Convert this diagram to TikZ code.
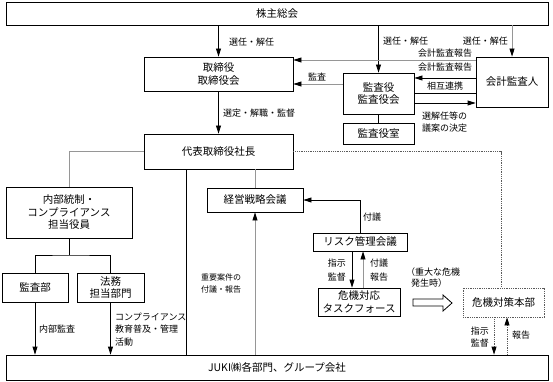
\documentclass[tikz,border=0pt]{standalone}
\usepackage{fontspec}
\setmainfont{Noto Sans CJK JP}
\usetikzlibrary{arrows.meta,calc}
\definecolor{lg}{RGB}{150,150,150}
\definecolor{dg}{RGB}{90,90,90}
\begin{document}
\begin{tikzpicture}[x=1pt,y=-1pt,
  box/.style={draw, line width=0.8pt, inner sep=0pt, align=center, font=\fontsize{10.5}{12.5}\selectfont},
  lbl/.style={inner sep=0pt, align=left, font=\fontsize{9}{12.5}\selectfont},
  tip/.style={-{Triangle[length=8pt,width=5pt,black]}},
  line/.style={line width=0.8pt},
  gline/.style={line width=0.8pt, draw=lg},
  arr/.style={line, tip},
  garr/.style={gline, tip},
  dline/.style={line width=0.8pt, draw=dg, densely dotted},
  darr/.style={dline, tip}]
\useasboundingbox (0,0) rectangle (553,382);

% boxes
\node[box, minimum width=542pt, minimum height=23pt] (kabu) at (277,13.5) {株主総会};
\node[box, minimum width=149pt, minimum height=34pt] (tori) at (218.5,74) {取締役\\取締役会};
\node[box, minimum width=71pt, minimum height=41pt] (kansa) at (378.5,93.5) {監査役\\監査役会};
\node[box, minimum width=71pt, minimum height=21pt] (kshitsu) at (378.5,133.5) {監査役室};
\node[box, minimum width=72pt, minimum height=50pt] (kaikei) at (512,82) {会計監査人};
\node[box, minimum width=149pt, minimum height=35pt] (shacho) at (218.5,151.5) {代表取締役社長};
\node[box, minimum width=126pt, minimum height=51pt] (naibu) at (69,212.5) {内部統制・\\コンプライアンス\\担当役員};
\node[box, minimum width=66pt, minimum height=29pt] (kansabu) at (35,287.5) {監査部};
\node[box, minimum width=67pt, minimum height=29pt] (homu) at (110.5,287.5) {法務\\担当部門};
\node[box, minimum width=96pt, minimum height=24pt] (keiei) at (255,200) {経営戦略会議};
\node[box, minimum width=94pt, minimum height=18pt] (risk) at (360,242) {リスク管理会議};
\node[box, minimum width=82pt, minimum height=28pt] (taio) at (359,302) {危機対応\\タスクフォース};
\node[box, draw=dg, densely dotted, minimum width=81pt, minimum height=29pt] (honbu) at (503.5,302.5) {危機対策本部};
\node[box, minimum width=542pt, minimum height=25pt] (juki) at (277,367.5) {JUKI㈱各部門、グループ会社};

% helper coordinates
\coordinate (r60) at (0,60);
\coordinate (r78) at (0,78);
\coordinate (r84) at (0,84);
\coordinate (r93) at (0,93);
\coordinate (r103) at (0,103);
\coordinate (split) at (69,255);
\coordinate (c186) at (186,0);
\coordinate (c352) at (352,0);
\coordinate (c363) at (363,0);
\coordinate (c501) at (501,0);
\coordinate (c494) at (494,0);
\coordinate (c507) at (507,0);

% connectors
\draw[arr] (kabu.south -| tori.north) -- (tori.north);
\draw[arr] (kabu.south -| kansa.north) -- (kansa.north);
\draw[garr] (kabu.south -| kaikei.north) -- (kaikei.north);
\draw[garr] (kaikei.west |- r60) -- (tori.east |- r60);
\draw[arr] (kaikei.west |- r78) -- (kansa.east |- r78);
\draw[garr] (kansa.west |- r84) -- (tori.east |- r84);
\draw[line] (kansa.east |- r93) -- (kaikei.west |- r93);
\draw[arr] (kansa.east |- r103) -- (kaikei.west |- r103);
\draw[line] (kansa.south) -- (kshitsu.north);
\draw[arr] (tori.south) -- (shacho.north);
\draw[gline] (shacho.west) -| (naibu.north);
\draw[line] (naibu.south) -- (split);
\draw[line] (kansabu.north) |- (split) -| (homu.north);
\draw[arr] (kansabu.south) -- (kansabu.south |- juki.north);
\draw[arr] (homu.south) -- (homu.south |- juki.north);
\draw[line] (shacho.south -| c186) -- (juki.north -| c186);
\draw[gline] (shacho.south -| keiei.north) -- (keiei.north);
\draw[garr] (juki.north -| keiei.south) -- (keiei.south);
\draw[arr] (risk.north) |- (keiei.east);
\draw[arr] (risk.south -| c352) -- (taio.north -| c352);
\draw[garr] (taio.north -| c363) -- (risk.south -| c363);
\draw[dline] (shacho.east) -| (c501 |- honbu.north);
\draw[darr] (honbu.south -| c494) -- (juki.north -| c494);
\draw[darr] (juki.north -| c507) -- (honbu.south -| c507);
\draw[line] (413,299) -- (443,299) -- (443,295) -- (452,303) -- (443,311) -- (443,306) -- (413,306) -- cycle;

% labels
\node[lbl, anchor=west] (l1) at (229,42) {選任・解任};
\node[lbl, anchor=west] (l2) at (383,41) {選任・解任};
\node[lbl, anchor=east] (l3) at (508,41) {選任・解任};
\node[lbl] (l4) at (445,53) {会計監査報告};
\node[lbl] (l5) at (445,67) {会計監査報告};
\node[lbl] (l6) at (317,77) {監査};
\node[lbl] (l7) at (445,86) {相互連携};
\node[lbl, anchor=west] (l8) at (422,122) {選解任等の\\議案の決定};
\node[lbl, anchor=west] (l9) at (223,113) {選定・解職・監督};
\node[lbl, anchor=west] (l10) at (39,329) {内部監査};
\node[lbl, anchor=west] (l11) at (115,329.5) {コンプライアンス\\教育普及・管理\\活動};
\node[lbl, align=center, font=\fontsize{8}{12}\selectfont] (l12) at (221,283) {重要案件の\\付議・報告};
\node[lbl] (l13) at (372,217) {付議};
\node[lbl, anchor=east, font=\fontsize{9}{14}\selectfont] (l14) at (346,270) {指示\\監督};
\node[lbl, anchor=west, font=\fontsize{9}{14}\selectfont] (l15) at (370,270) {付議\\報告};
\node[lbl, anchor=west, font=\fontsize{9}{11.5}\selectfont] (l16) at (406,277.5) {（重大な危機\\\hspace*{5pt}発生時）};
\node[lbl, anchor=east, font=\fontsize{9}{12}\selectfont] (l17) at (489,337) {指示\\監督};
\node[lbl, anchor=west] (l18) at (512,335) {報告};
\end{tikzpicture}
\end{document}
